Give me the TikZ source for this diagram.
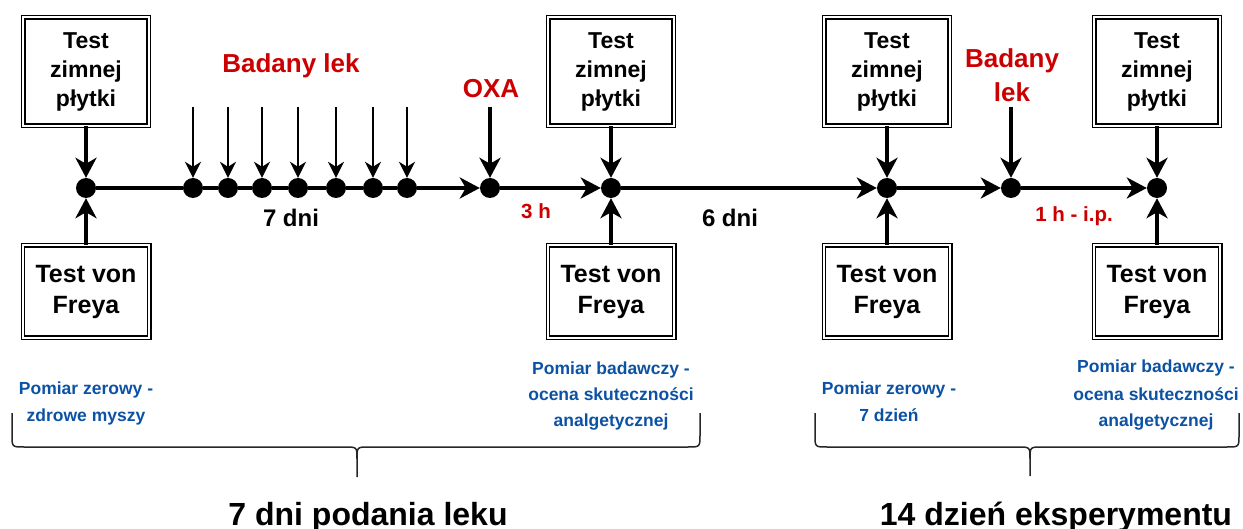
\documentclass[tikz,border=0pt]{standalone}
\usepackage{fontspec}
\setmainfont{Liberation Sans}
\usetikzlibrary{arrows.meta}
\definecolor{drugred}{RGB}{204,0,0}
\definecolor{noteblue}{RGB}{12,82,164}

\begin{document}
\begin{tikzpicture}[x=1pt,y=-1pt,
  testbox/.style={draw=black, double=white, line width=1.4pt, double distance=1.8pt,
    inner sep=0pt, align=center},
  upperbox/.style={testbox, minimum width=125.4pt, minimum height=108.4pt,
    font=\fontsize{23}{29}\selectfont\bfseries},
  lowerbox/.style={testbox, minimum width=126.4pt, minimum height=92.4pt,
    font=\fontsize{25}{31}\selectfont\bfseries},
  dot/.style={circle, fill=black, minimum size=20pt, inner sep=0pt},
  feed/.style={line width=3.5pt, -{Stealth[length=20pt,width=21pt,inset=6pt]}},
  dose/.style={line width=2pt, -{Stealth[length=16pt,width=16pt,inset=5pt]}},
  axis/.style={line width=3.5pt},
  axisarrow/.style={axis, -{Stealth[length=20pt,width=21pt,inset=6pt]}},
  redlabel/.style={text=drugred, anchor=base, inner sep=0pt,
    font=\fontsize{26}{30}\selectfont\bfseries},
  timelabel/.style={text=drugred, anchor=base, inner sep=0pt,
    font=\fontsize{20.5}{24}\selectfont\bfseries},
  daylabel/.style={anchor=base, inner sep=0pt,
    font=\fontsize{24}{28}\selectfont\bfseries},
  note/.style={text=noteblue, anchor=base, inner sep=0pt,
    font=\fontsize{17.5}{21}\selectfont\bfseries},
  period/.style={anchor=base, inner sep=0pt,
    font=\fontsize{32}{36}\selectfont\bfseries},
  brace/.style={line width=1.5pt, draw=black!85}
]
\useasboundingbox (0,0) rectangle (1243,529);

% time points on the axis
\node[dot] (d0) at (86,188) {};
\node[dot] (d1) at (193,188) {};
\node[dot] (d2) at (228,188) {};
\node[dot] (d3) at (262,188) {};
\node[dot] (d4) at (298,188) {};
\node[dot] (d5) at (336,188) {};
\node[dot] (d6) at (373,188) {};
\node[dot] (d7) at (407,188) {};
\node[dot] (oxa) at (490,188) {};
\node[dot] (d9) at (611,188) {};
\node[dot] (d10) at (887,188) {};
\node[dot] (d11) at (1011,188) {};
\node[dot] (d12) at (1157,188) {};

% axis segments
\draw[axis] (d0) -- (d1);
\draw[axis] (d1) -- (d2);
\draw[axis] (d2) -- (d3);
\draw[axis] (d3) -- (d4);
\draw[axis] (d4) -- (d5);
\draw[axis] (d5) -- (d6);
\draw[axis] (d6) -- (d7);
\draw[axisarrow] (d7) -- (oxa);
\draw[axisarrow] (oxa) -- (d9);
\draw[axisarrow] (d9) -- (d10);
\draw[axisarrow] (d10) -- (d11);
\draw[axisarrow] (d11) -- (d12);

% cold plate tests
\node[upperbox] (cp0) at (86,71.5) {Test\\zimnej\\płytki};
\node[upperbox] (cp1) at (611,71.5) {Test\\zimnej\\płytki};
\node[upperbox] (cp2) at (887,71.5) {Test\\zimnej\\płytki};
\node[upperbox] (cp3) at (1157,71.5) {Test\\zimnej\\płytki};

% von Frey tests
\node[lowerbox] (vf0) at (86,291.5) {Test von\\Freya};
\node[lowerbox] (vf1) at (611,291.5) {Test von\\Freya};
\node[lowerbox] (vf2) at (887,291.5) {Test von\\Freya};
\node[lowerbox] (vf3) at (1157,291.5) {Test von\\Freya};

\draw[feed] (cp0) -- (d0);
\draw[feed] (cp1) -- (d9);
\draw[feed] (cp2) -- (d10);
\draw[feed] (cp3) -- (d12);
\draw[feed] (vf0) -- (d0);
\draw[feed] (vf1) -- (d9);
\draw[feed] (vf2) -- (d10);
\draw[feed] (vf3) -- (d12);

% daily doses
\foreach \i/\x in {1/193,2/228,3/262,4/298,5/336,6/373,7/407}{
  \coordinate (s\i) at (\x,107);
  \draw[dose] (s\i) -- (d\i);
}
\coordinate (soxa) at (490,107);
\draw[feed] (soxa) -- (oxa);
\coordinate (s11) at (1011,107);
\draw[feed] (s11) -- (d11);

% labels
\node[redlabel] (drugA) at (291,73) {Badany lek};
\node[redlabel] (oxaL) at (491,98) {OXA};
\node[redlabel] (drugB1) at (1012,68) {Badany};
\node[redlabel] (drugB2) at (1012,102) {lek};
\node[daylabel] (sevenDays) at (291,227) {7 dni};
\node[daylabel] (sixDays) at (730,227) {6 dni};
\node[timelabel] (threeH) at (536,219) {3 h};
\node[timelabel] (oneH) at (1074,222) {1 h - i.p.};

% measurement notes
\node[note] (n0a) at (86,395) {Pomiar zerowy -};
\node[note] (n0b) at (86,421) {zdrowe myszy};
\node[note] (n1a) at (611,374) {Pomiar badawczy -};
\node[note] (n1b) at (611,401) {ocena skuteczności};
\node[note] (n1c) at (611,427) {analgetycznej};
\node[note] (n2a) at (889,395) {Pomiar zerowy -};
\node[note] (n2b) at (889,421) {7 dzień};
\node[note] (n3a) at (1156,373) {Pomiar badawczy -};
\node[note] (n3b) at (1156,400) {ocena skuteczności};
\node[note] (n3c) at (1156,427) {analgetycznej};

% braces grouping the phases
\draw[brace] (12,413) -- (12,435) .. controls (12,447) .. (24,447) -- (345,447)
  .. controls (357,447) .. (357,459) -- (357,477);
\draw[brace] (700,413) -- (700,435) .. controls (700,447) .. (688,447) -- (369,447)
  .. controls (357,447) .. (357,459);
\draw[brace] (815,413) -- (815,435) .. controls (815,447) .. (827,447) -- (1018,447)
  .. controls (1030,447) .. (1030,459) -- (1030,476);
\draw[brace] (1239,413) -- (1239,435) .. controls (1239,447) .. (1227,447) -- (1042,447)
  .. controls (1030,447) .. (1030,459);

\node[period] (phase1) at (368,525) {7 dni podania leku};
\node[period] (phase2) at (1056,525) {14 dzień eksperymentu};
\end{tikzpicture}
\end{document}
